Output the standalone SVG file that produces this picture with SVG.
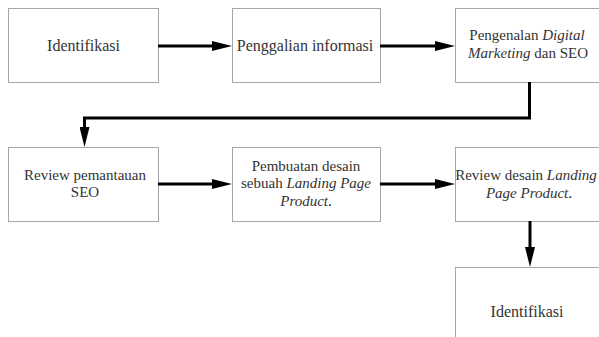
<svg xmlns="http://www.w3.org/2000/svg" width="599" height="337" viewBox="0 0 599 337">
<style>
.box{fill:#fff;stroke:#a6a6a6;stroke-width:1}
.t{font-family:"Liberation Serif","Times New Roman",serif;font-size:15px;fill:#333;text-anchor:middle}
.b{font-size:16px}
.i{font-style:italic}
.k{fill:#000}
.c{fill:none;stroke:#000;stroke-width:3}
</style>
<defs>
<marker id="ah" markerUnits="userSpaceOnUse" markerWidth="20" markerHeight="10" refX="10" refY="5" orient="auto" viewBox="0 0 20 10">
<path d="M0,0 L20,5 L0,10 Z" fill="#000"/>
</marker>
</defs>
<rect width="599" height="337" fill="#fff"/>
<g id="n1"><rect class="box" x="8.5" y="8.5" width="150" height="74"/><text class="t b" x="83.5" y="51">Identifikasi</text></g>
<g id="n2"><rect class="box" x="232.5" y="8.5" width="148" height="74"/><text class="t b" x="305" y="51">Penggalian informasi</text></g>
<g id="n3"><rect class="box" x="455.5" y="8.5" width="148" height="74"/><text class="t" x="527" y="40">Pengenalan <tspan class="i">Digital</tspan></text><text class="t" x="528" y="58"><tspan class="i">Marketing</tspan> dan SEO</text></g>
<g id="n4"><rect class="box" x="8.5" y="147.5" width="150" height="74"/><text class="t" x="85" y="180">Review pemantauan</text><text class="t" x="85" y="197">SEO</text></g>
<g id="n5"><rect class="box" x="232.5" y="147.5" width="148" height="74"/><text class="t" x="306" y="171">Pembuatan desain</text><text class="t" x="306" y="188">sebuah <tspan class="i">Landing Page</tspan></text><text class="t" x="306" y="206"><tspan class="i">Product</tspan><tspan class="k">.</tspan></text></g>
<g id="n6"><rect class="box" x="455.5" y="147.5" width="148" height="74"/><text class="t" x="526" y="180">Review desain <tspan class="i">Landing</tspan></text><text class="t" x="529" y="198"><tspan class="i">Page Product</tspan><tspan class="k">.</tspan></text></g>
<g id="n7"><rect class="box" x="455.5" y="267.5" width="148" height="90"/><text class="t b" x="527" y="317">Identifikasi</text></g>
<g id="connectors">
<path class="c" d="M158,46 H222" marker-end="url(#ah)"/>
<path class="c" d="M380,46 H445" marker-end="url(#ah)"/>
<path class="c" d="M529.5,82 V118 H84.5 V137" marker-end="url(#ah)"/>
<path class="c" d="M158,184 H222" marker-end="url(#ah)"/>
<path class="c" d="M380,184 H445" marker-end="url(#ah)"/>
<path class="c" d="M530,221 V257" marker-end="url(#ah)"/>
</g>
</svg>
